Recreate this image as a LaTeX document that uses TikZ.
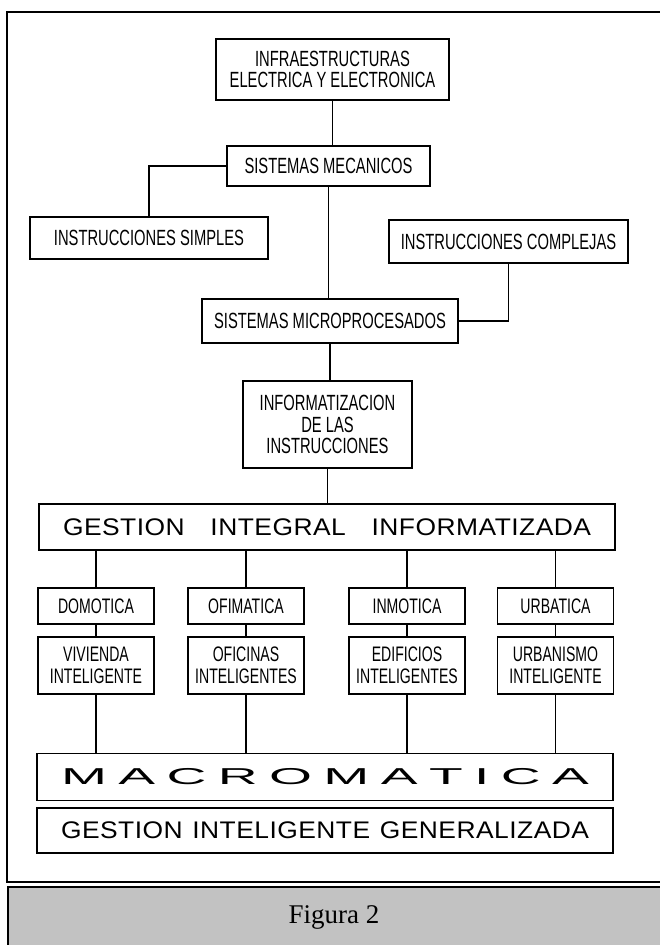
\documentclass[tikz,border=0pt]{standalone}
\usepackage{graphicx}
\usepackage{fontspec}
\newfontfamily\cajafont[FakeStretch=0.67]{Liberation Sans}
\newfontfamily\anchafont[FakeStretch=1.1,LetterSpace=2]{Liberation Sans}
\newfontfamily\macrofont{Liberation Sans}
\newfontfamily\piefont{Liberation Serif}

\begin{document}
\begin{tikzpicture}[x=1pt, y=-1pt,
  caja/.style={draw, line width=1.2pt, inner sep=0pt, align=center,
    font=\cajafont\fontsize{22}{21.5}\selectfont},
  col/.style={caja, minimum width=116pt,
    font=\cajafont\fontsize{21}{22}\selectfont},
  ancha/.style={draw, line width=1.2pt, inner sep=0pt, minimum width=576pt},
  linea/.style={line width=1.1pt}]
  \useasboundingbox (0,0) rectangle (660,945);
  \clip (0,0) rectangle (660,945);
  % marco y banda del pie
  \draw[line width=1.4pt] (7,12) rectangle (670,882);
  \fill[black!24] (8,887) rectangle (670,950);
  \draw[line width=1.6pt] (8,950) -- (8,887) -- (670,887);
  % parte superior
  \node[caja, minimum width=233pt, minimum height=61pt] (infra) at (332.5,69.5)
    {INFRAESTRUCTURAS\\ELECTRICA Y ELECTRONICA};
  \node[caja, minimum width=203pt, minimum height=40pt] (mecanicos) at (328.5,166)
    {SISTEMAS MECANICOS};
  \node[caja, minimum width=238pt, minimum height=42pt] (simples) at (149,238)
    {INSTRUCCIONES SIMPLES};
  \node[caja, minimum width=239pt, minimum height=43pt] (complejas) at (508.5,241.5)
    {INSTRUCCIONES COMPLEJAS};
  \node[caja, minimum width=256pt, minimum height=44pt] (micro) at (330,321)
    {SISTEMAS MICROPROCESADOS};
  \node[caja, minimum width=169pt, minimum height=87pt] (informat) at (327.5,424.5)
    {INFORMATIZACION\\DE LAS\\INSTRUCCIONES};
  \node[ancha, minimum height=46pt] (integral) at (327,527)
    {\anchafont\fontsize{24}{24}\selectfont\makebox[528pt][s]{GESTION INTEGRAL INFORMATIZADA}};
  % columnas
  \foreach \nom/\x/\area/\uso in {dom/96/DOMOTICA/{VIVIENDA\\INTELIGENTE},
      ofi/246/OFIMATICA/{OFICINAS\\INTELIGENTES},
      inm/407/INMOTICA/{EDIFICIOS\\INTELIGENTES},
      urb/555.5/URBATICA/{URBANISMO\\INTELIGENTE}} {
    \node[col, minimum height=36pt] (\nom) at (\x,606) {\area};
    \node[col, minimum height=57pt] (\nom-uso) at (\x,665.5) {\uso};
  }
  % parte inferior
  \node[ancha, minimum height=47pt] (macro) at (325,777)
    {\macrofont\fontsize{23}{23}\selectfont\scalebox{2.4}[1]{\makebox[220pt]{M\hfill A\hfill C\hfill R\hfill O\hfill M\hfill A\hfill T\hfill I\hfill C\hfill A}}};
  \node[ancha, minimum height=45pt] (general) at (325,830.5)
    {\anchafont\fontsize{24}{24}\selectfont\makebox[528pt][s]{GESTION INTELIGENTE GENERALIZADA}};
  % conexiones
  \draw[linea] (infra.south) -- (infra.south |- mecanicos.north);
  \draw[linea] (mecanicos.west) -| (simples.north);
  \draw[linea] (mecanicos.south) -- (mecanicos.south |- micro.north);
  \draw[linea] (complejas.south) |- (micro.east);
  \draw[linea] (micro.south) -- (micro.south |- informat.north);
  \draw[linea] (informat.south) -- (informat.south |- integral.north);
  \foreach \nom in {dom,ofi,inm,urb} {
    \draw[linea] (\nom.north) -- (\nom.north |- integral.south);
    \draw[linea] (\nom.south) -- (\nom-uso.north);
    \draw[linea] (\nom-uso.south) -- (\nom-uso.south |- macro.north);
  }
  % pie
  \node[font=\piefont\fontsize{27}{27}\selectfont] (pie) at (334,917) {Figura 2};
\end{tikzpicture}
\end{document}
